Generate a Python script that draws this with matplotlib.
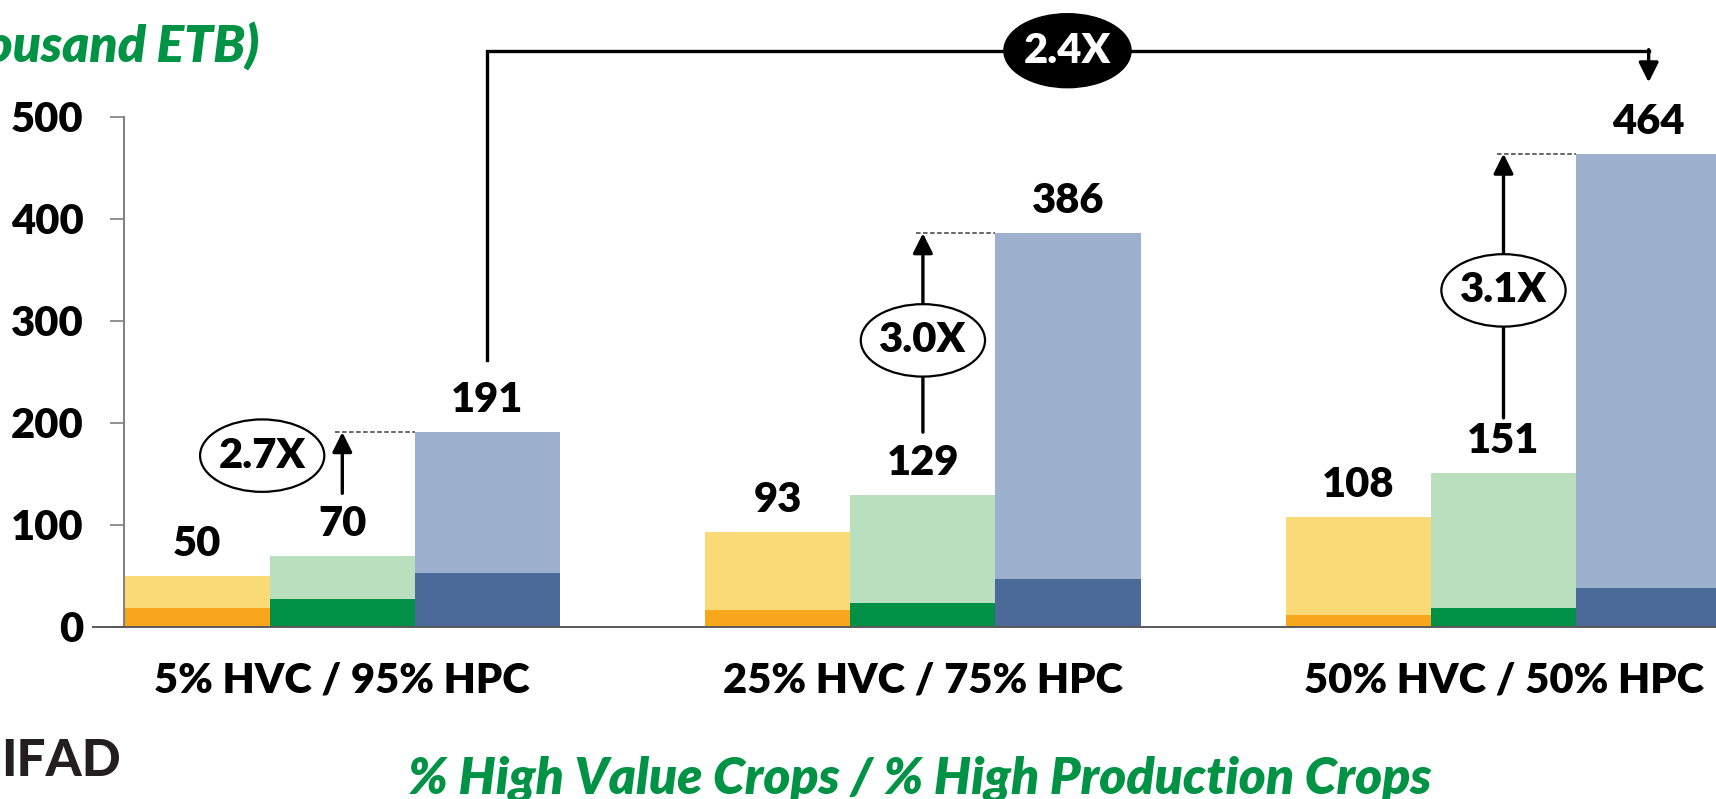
"""Net income by crop mix — stacked bars with multiplier call-outs."""
import numpy as np
import matplotlib
matplotlib.use("Agg")
import matplotlib.pyplot as plt
from matplotlib.patches import Ellipse

plt.rcParams["font.family"] = ["Lato", "DejaVu Sans"]

categories = ["5% HVC / 95% HPC", "25% HVC / 75% HPC", "50% HVC / 50% HPC"]
# totals per bar (value labels) and the darker bottom segment
yellow_total = [50, 93, 108]
yellow_base = [19, 17, 12]
green_total = [70, 129, 151]
green_base = [27, 24, 19]
blue_total = [191, 386, 464]
blue_base = [53, 47, 38]
multipliers = ["2.7X", "3.0X", "3.1X"]
overall_mult = "2.4X"

GREEN_TXT = "#009245"
BOLD = 800
series = [
    (yellow_total, yellow_base, "#FADA76", "#F8A61C"),
    (green_total, green_base, "#B9DFBE", "#009046"),
    (blue_total, blue_base, "#9DB0CE", "#4B6A99"),
]

W = 0.25
x = np.arange(len(categories))

fig = plt.figure(figsize=(17.16, 7.99), dpi=100)
ax = fig.add_axes([124 / 1716, 172 / 799, 1592 / 1716, 510 / 799])

for k, (tot, base, light, dark) in enumerate(series):
    xs = x + (k - 1) * W
    tot = np.array(tot); base = np.array(base)
    ax.bar(xs, base, W, color=dark, linewidth=0)
    ax.bar(xs, tot - base, W, bottom=base, color=light, linewidth=0)
    for xi, v in zip(xs, tot):
        ax.annotate(f"{v}", (xi, v), xytext=(0, 23), textcoords="offset points",
                    ha="center", va="center", fontsize=30, fontweight=BOLD,
                    annotation_clip=False)

ax.set_xlim(-1.5 * W - 0.001, 2.366)
ax.set_ylim(0, 500)
ax.set_yticks([0, 100, 200, 300, 400, 500])
ax.tick_params(axis="y", direction="out", length=10, width=1.2, color="#7F7F7F",
               pad=19, labelsize=30)
for t in ax.get_yticklabels():
    t.set_fontweight(BOLD)
ax.set_xticks(x)
ax.set_xticklabels(categories, fontsize=30, fontweight=BOLD)
ax.tick_params(axis="x", length=0, pad=25)
for s in ["top", "right"]:
    ax.spines[s].set_visible(False)
ax.spines["left"].set_color("#7F7F7F")
ax.spines["left"].set_linewidth(1.4)
ax.spines["bottom"].set_color("#595959")
ax.spines["bottom"].set_linewidth(1.4)
ax.spines["bottom"].set_bounds(-0.43, 2.4)

arrow = dict(arrowstyle="-|>,head_length=0.6,head_width=0.3", mutation_scale=20,
             lw=2.4, color="black", shrinkA=0, shrinkB=0)

# within-group multipliers: arrow from mid bar up to the blue bar top
arrow_low = [131, 191, 205]
ell_pos = [(-0.138, 168), (1.0, 281), (2.0, 330)]
for i in range(3):
    ax.annotate("", xy=(x[i], blue_total[i]), xytext=(x[i], arrow_low[i]),
                arrowprops=arrow, annotation_clip=False)
    ax.plot([x[i] - 0.012, x[i] + W / 2], [blue_total[i]] * 2, color="#404040",
            lw=1.1, ls=(0, (3, 1.6)))
    ex, ey = ell_pos[i]
    ax.add_patch(Ellipse((ex, ey), 0.214, 71, facecolor="white", edgecolor="black",
                         lw=1.6, zorder=5))
    ax.text(ex, ey, multipliers[i], ha="center", va="center", fontsize=30,
            fontweight=BOLD, zorder=6)

# overall bracket 191 -> 464
top = 565
ax.plot([W, W, 2 + W], [262, top, top], color="black", lw=2.4, clip_on=False,
        solid_joinstyle="miter")
ax.annotate("", xy=(2 + W, 534), xytext=(2 + W, top + 1), arrowprops=arrow,
            annotation_clip=False)
ax.add_patch(Ellipse((1.249, top), 0.219, 72.5, facecolor="black", edgecolor="black",
                     zorder=5, clip_on=False))
ax.text(1.249, top, overall_mult, ha="center", va="center", fontsize=30,
        fontweight=BOLD, color="white", zorder=6, clip_on=False)

ax.set_xlabel("% High Value Crops / % High Production Crops", fontsize=37,
              fontweight=BOLD, fontstyle="italic", color=GREEN_TXT, labelpad=40)
fig.text(259 / 1716, 1 - 46 / 799, "(Thousand ETB)", ha="right",
         va="center", fontsize=37, fontweight=BOLD, fontstyle="italic",
         color=GREEN_TXT)
fig.text(1 / 1716, 1 - 762 / 799, "IFAD", ha="left", va="center", fontsize=37,
         fontweight="black", color="#231F20")

fig.savefig("out.png", dpi=100)
